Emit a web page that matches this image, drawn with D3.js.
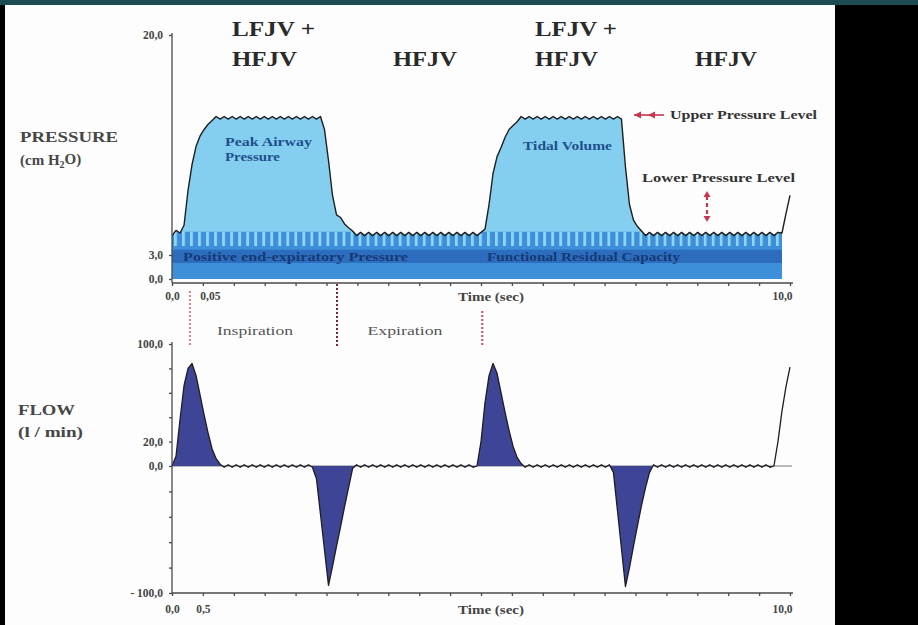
<!DOCTYPE html>
<html>
<head>
<meta charset="utf-8">
<script src="https://cdn.jsdelivr.net/npm/d3@7"></script>
<style>
  html, body { margin: 0; padding: 0; background: #000; }
  svg { display: block; font-family: 'Liberation Serif', 'Times New Roman', serif; }
</style>
</head>
<body>
<svg id="chart" width="918" height="625"></svg>
<script>
// one sample every 10/154 s (two samples per HF jet cycle)
const sampleStep = 10 / 154;

// airway pressure, cm H2O
const pressureValues = [
  4.5, 4.9, 4.7, 5.3, 8.0, 10.0, 11.4, 12.2, 12.7, 13.1, 13.4,
  13.7, 13.5, 13.7, 13.5, 13.7, 13.5, 13.7, 13.5, 13.7, 13.5, 13.7, 13.5, 13.7, 13.5,
  13.7, 13.5, 13.7, 13.5, 13.7, 13.5, 13.7, 13.5, 13.7, 13.5, 13.7, 13.5, 13.7,
  12.7, 10.3, 7.6, 6.1, 5.9, 5.4, 5.1, 4.85,
  4.5, 4.75, 4.5, 4.75, 4.5, 4.75, 4.5, 4.75, 4.5, 4.75, 4.5, 4.75, 4.5, 4.75, 4.5, 4.75,
  4.5, 4.75, 4.5, 4.75, 4.5, 4.75, 4.5, 4.75, 4.5, 4.75, 4.5, 4.75, 4.5, 4.75, 4.5, 4.75,
  5.0, 6.9, 9.3, 10.6, 11.3, 12.1, 12.7, 13.0, 13.3,
  13.7, 13.5, 13.7, 13.5, 13.7, 13.5, 13.7, 13.5, 13.7, 13.5, 13.7, 13.5, 13.7, 13.5,
  13.7, 13.5, 13.7, 13.5, 13.7, 13.5, 13.7, 13.5, 13.7, 13.5, 13.7, 13.5,
  9.8, 6.9, 5.7, 5.2, 4.85,
  4.5, 4.75, 4.5, 4.75, 4.5, 4.75, 4.5, 4.75, 4.5, 4.75, 4.5, 4.75, 4.5, 4.75, 4.5, 4.75, 4.5, 4.75,
  4.5, 4.75, 4.5, 4.75, 4.5, 4.75, 4.5, 4.75, 4.5, 4.75, 4.5, 4.75, 4.5, 4.75, 4.5, 4.75,
  4.7, 6.2, 7.6
];

// gas flow, l / min
const flowValues = [
  0, 8, 38, 66, 80, 84, 74, 58, 42, 27, 14, 6, 1.5,
  -1, 1, -1, 1, -1, 1, -1, 1, -1, 1, -1, 1, -1, 1, -1, 1, -1, 1, -1, 1, -1, 1, -1,
  -10, -38, -66, -94, -79, -63, -48, -32, -17, -2,
  1, -1, 1, -1, 1, -1, 1, -1, 1, -1, 1, -1, 1, -1, 1, -1, 1, -1, 1, -1, 1, -1, 1, -1, 1, -1, 1, -1, 1, -1,
  0, 20, 52, 74, 84, 76, 60, 44, 29, 16, 7, 2,
  -1, 1, -1, 1, -1, 1, -1, 1, -1, 1, -1, 1, -1, 1, -1, 1, -1, 1, -1, 1, -1, 1,
  -5, -35, -65, -95, -80, -63, -47, -31, -17, -5,
  1, -1, 1, -1, 1, -1, 1, -1, 1, -1, 1, -1, 1, -1, 1, -1, 1, -1, 1, -1, 1, -1, 1, -1, 1, -1, 1, -1, 1, -1,
  0, 20, 45, 65, 81
];

// pressure bands drawn under the curve (cm H2O)
const peepBand = [0, 4.8];
const pulseBand = [3.7, 4.8];
const frcBand = [2.0, 3.4];
const pressureFillEnd = 9.88;
const flowFillEnd = 9.75;

// axis ticks
const pressureTicks = [0, 3, 20];
const pressureTickLabels = ['0,0', '3,0', '20,0'];
const flowTicks = [-100, 0, 20, 100];
const flowTickLabels = ['- 100,0', '0,0', '20,0', '100,0'];
const timeTicks = [0, 0.5, 10];
const pressureTimeLabels = ['0,0', '0,05', '10,0'];
const flowTimeLabels = ['0,0', '0,5', '10,0'];

// phase headings and markers
const headings = [['LFJV +', 'HFJV'], ['HFJV'], ['LFJV +', 'HFJV'], ['HFJV']];
const phaseMarkerTimes = [0.29, 2.67, 5.02];
const phaseNames = ['Inspiration', 'Expiration'];

// ---------- layout ----------
const W = 918, H = 625;
const headingX = [232, 393, 535, 695];
const headingWidths = [[83, 65], [64], [82, 63], [62]];
const markerTops = [291, 284, 311];
const markerColors = ['#e07c8e', '#7c2634', '#cf4a64'];
const serif = "'Liberation Serif', 'Times New Roman', serif";

const svg = d3.select('#chart');
svg.append('rect').attr('width', W).attr('height', H).attr('fill', '#000');
svg.append('rect').attr('x', 5).attr('y', 5).attr('width', 830).attr('height', H - 5).attr('fill', '#fdfdfd');
svg.append('rect').attr('width', W).attr('height', 5).attr('fill', '#1d4b54');

const x = d3.scaleLinear().domain([0, 10]).range([172, 790]);
const yP = d3.scaleLinear().domain([0, 3, 20]).range([279, 255, 35]);
const yF = d3.scaleLinear().domain([-100, 0, 100]).range([593, 466, 344]);
const pAxisY = 283;
const fAxisY = 593;

const pressure = pressureValues.map((v, i) => ({ t: i * sampleStep, v }));
const flow = flowValues.map((v, i) => ({ t: i * sampleStep, v }));

const defs = svg.append('defs');

// ---------- pressure panel ----------
const pFill = pressure.filter((d) => d.t <= pressureFillEnd);
const envelopeArea = d3.area().x((d) => x(d.t)).y0(yP(0)).y1((d) => yP(d.v));
const band = (lo, hi) => d3.area().x((d) => x(d.t)).y0(yP(lo)).y1(yP(hi))(pFill);

defs.append('clipPath').attr('id', 'envClip')
  .append('path').attr('d', envelopeArea(pFill));

const period = x(2 * sampleStep) - x(0);
defs.append('pattern')
  .attr('id', 'pulses')
  .attr('patternUnits', 'userSpaceOnUse')
  .attr('x', x(0) + period * 0.25)
  .attr('width', period)
  .attr('height', 20)
  .append('rect').attr('width', period * 0.35).attr('height', 20).attr('fill', '#8fd4f2');

const pg = svg.append('g');
pg.append('path').attr('d', envelopeArea(pFill)).attr('fill', '#84cff0');
const banded = pg.append('g').attr('clip-path', 'url(#envClip)');
banded.append('path').attr('d', band(...peepBand)).attr('fill', '#3d8fda');
banded.append('path').attr('d', band(...pulseBand)).attr('fill', 'url(#pulses)');
banded.append('path').attr('d', band(...frcBand)).attr('fill', '#2d6dbd');

pg.append('path')
  .datum(pressure)
  .attr('d', d3.line().x((d) => x(d.t)).y((d) => yP(d.v)))
  .attr('fill', 'none')
  .attr('stroke', '#1e1e1e')
  .attr('stroke-width', 1.4)
  .attr('stroke-linejoin', 'round');

// ---------- flow panel ----------
const fFill = flow.filter((d) => d.t <= flowFillEnd);
const fg = svg.append('g');
fg.append('line')
  .attr('x1', x(0)).attr('x2', x(10) + 2)
  .attr('y1', yF(0)).attr('y2', yF(0))
  .attr('stroke', '#777').attr('stroke-width', 1);
fg.append('path')
  .attr('d', d3.area().x((d) => x(d.t)).y0(yF(0)).y1((d) => yF(d.v))(fFill))
  .attr('fill', '#3e4597');
fg.append('path')
  .datum(flow)
  .attr('d', d3.line().x((d) => x(d.t)).y((d) => yF(d.v)))
  .attr('fill', 'none')
  .attr('stroke', '#1e1e1e')
  .attr('stroke-width', 1.3)
  .attr('stroke-linejoin', 'round');

// ---------- axes ----------
function styleAxis(g) {
  g.attr('font-family', serif);
  g.selectAll('.domain, line').attr('stroke', '#4a4a4a').attr('stroke-width', 1.3);
  g.selectAll('text')
    .attr('font-size', 11.5)
    .attr('font-weight', 'bold')
    .attr('fill', '#444');
}

function timeAxis(y, labels, padding, titleY) {
  const labelMap = new Map(timeTicks.map((t, i) => [t, labels[i]]));
  const g = svg.append('g').attr('transform', `translate(0,${y})`)
    .call(d3.axisBottom(x)
      .tickValues(d3.range(0, 10.01, 0.5))
      .tickSize(3)
      .tickSizeOuter(0)
      .tickPadding(padding)
      .tickFormat((t) => labelMap.get(t) || ''));
  g.select('.domain').attr('d', `M${x(0)},0H${x(10) + 3}`);
  g.selectAll('.tick text').filter((t) => t === 10).attr('text-anchor', 'end').attr('dx', 2);
  styleAxis(g);
  g.append('text')
    .attr('x', 491).attr('y', titleY)
    .attr('text-anchor', 'middle')
    .attr('font-size', 13).attr('font-weight', 'bold').attr('fill', '#444')
    .attr('textLength', 66)
    .attr('lengthAdjust', 'spacingAndGlyphs')
    .text('Time (sec)');
  return g;
}

const topAxis = timeAxis(pAxisY, pressureTimeLabels, 6, 18);
topAxis.selectAll('.tick text').filter((t) => t === 0.5).attr('dx', 7);
timeAxis(fAxisY, flowTimeLabels, 9, 21);

const pLabelMap = new Map(pressureTicks.map((t, i) => [t, pressureTickLabels[i]]));
const pAxis = svg.append('g').attr('transform', `translate(${x(0)},0)`)
  .call(d3.axisLeft(yP)
    .tickValues(pressureTicks)
    .tickSize(3).tickSizeOuter(0).tickPadding(6)
    .tickFormat((t) => pLabelMap.get(t)));
pAxis.select('.domain').attr('d', `M0,${yP(20) - 2}V${pAxisY}`);
styleAxis(pAxis);

const fLabelMap = new Map(flowTicks.map((t, i) => [t, flowTickLabels[i]]));
const fAxis = svg.append('g').attr('transform', `translate(${x(0)},0)`)
  .call(d3.axisLeft(yF)
    .tickValues(d3.range(-100, 100.1, 20))
    .tickSize(3).tickSizeOuter(0).tickPadding(6)
    .tickFormat((t) => fLabelMap.get(t) || ''));
fAxis.select('.domain').attr('d', `M0,${yF(100) - 2}V${fAxisY}`);
styleAxis(fAxis);

// ---------- text ----------
function label(txt, px, py, opts = {}) {
  const t = svg.append('text')
    .attr('x', px).attr('y', py).attr('dy', '0.35em')
    .attr('font-size', opts.size || 12)
    .attr('font-weight', opts.weight || 'bold')
    .attr('fill', opts.fill || '#333')
    .attr('text-anchor', opts.anchor || 'start')
    .text(txt);
  if (opts.width) t.attr('textLength', opts.width).attr('lengthAdjust', 'spacingAndGlyphs');
  return t;
}

headings.forEach((lines, i) => {
  lines.forEach((line, j) => {
    const row = lines.length === 2 ? j : 1;
    label(line, headingX[i], 28 + row * 30, { size: 22, fill: '#2a2a2a', width: headingWidths[i][j] });
  });
});

label('PRESSURE', 20, 137, { size: 15, fill: '#474747', width: 98 });
const unitP = label('(cm H', 20, 160, { size: 15, fill: '#474747' });
unitP.append('tspan').attr('font-size', 10).attr('dy', '0.3em').text('2');
unitP.append('tspan').attr('dy', '-0.3em').text('O)');
label('FLOW', 18, 410, { size: 15, fill: '#474747', width: 57 });
label('(l / min)', 18, 432, { size: 15, fill: '#474747', width: 65 });

const notes = [
  ['Peak Airway', 225, 142, 87, '#1f4f8c'],
  ['Pressure', 225, 157, 55, '#1f4f8c'],
  ['Tidal Volume', 523, 146, 89, '#1f4f8c'],
  ['Upper Pressure Level', 670, 115, 147, '#333'],
  ['Lower Pressure Level', 642, 178, 153, '#333'],
  ['Positive end-expiratory Pressure', 183, 257, 225, '#163a76'],
  ['Functional Residual Capacity', 487, 257, 193, '#163a76']
];
notes.forEach(([txt, px, py, w, fill]) => label(txt, px, py, { size: 12, width: w, fill }));

// phase markers between the panels
phaseMarkerTimes.forEach((t, i) => {
  svg.append('line')
    .attr('x1', x(t)).attr('x2', x(t))
    .attr('y1', markerTops[i]).attr('y2', 347)
    .attr('stroke', markerColors[i])
    .attr('stroke-width', 2)
    .attr('stroke-dasharray', '2,2');
});
label(phaseNames[0], 255, 330, { size: 13, weight: 'normal', fill: '#555', anchor: 'middle', width: 76 });
label(phaseNames[1], 405, 330, { size: 13, weight: 'normal', fill: '#555', anchor: 'middle', width: 75 });

// pressure-level arrows
const red = '#c5384f';
svg.append('line').attr('x1', 634).attr('x2', 664).attr('y1', 115).attr('y2', 115)
  .attr('stroke', red).attr('stroke-width', 1.6);
[634, 648].forEach((ax) => {
  svg.append('path').attr('d', `M${ax},115l7,-3.5v7z`).attr('fill', red);
});
svg.append('line').attr('x1', 707).attr('x2', 707).attr('y1', 196).attr('y2', 217)
  .attr('stroke', red).attr('stroke-width', 2.2).attr('stroke-dasharray', '4,3');
svg.append('path').attr('d', 'M707,191l-3.5,6h7z').attr('fill', red);
svg.append('path').attr('d', 'M707,222l-3.5,-6h7z').attr('fill', red);
</script>
</body>
</html>
